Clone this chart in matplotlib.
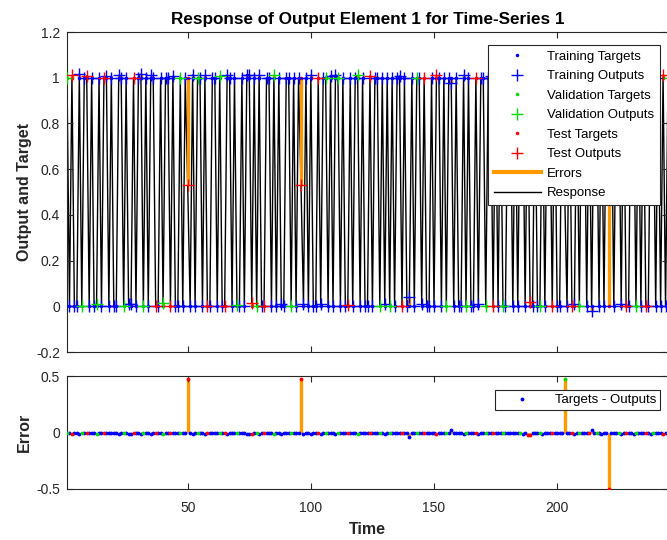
import numpy as np
import matplotlib
matplotlib.use('Agg')
import matplotlib.pyplot as plt
from matplotlib.lines import Line2D

plt.rcParams['font.family'] = ['Liberation Sans', 'DejaVu Sans']

# ---------------- data ----------------
targets_str = (
    "1010010110" "1001011010" "0110100101" "1010110010" "1101001011"
    "0101101001" "1010011010" "0101101010" "0110101001" "1010110101"
    "0010110101" "1010010110" "1001011010" "1010110100" "1011010010"
    "1101011010" "0101001011" "0110101001" "1010110100" "1001011010"
    "0110100101" "1010110101" "0101101001" "1010100110" "10101"
)
subset_str = (
    "gbrbbbgbrb" "bbgbbrbbbb" "bbbgbbbrbb" "bgbbbbrbbg" "bbrbbbgbbr"
    "bbbgbbbrbb" "bbgbrbbbbg" "bbbbbrbgbb" "rbbbgbbbbb" "bgbbbrbbbb"
    "bbrbbgbbbb" "gbbbrbbbgb" "bbbrbbbgbb" "bgbbbbrbbb" "bbgbbrbbbb"
    "rbbbgbbbbb" "bbgbbbrbbb" "gbbrbbbgbb" "bbbbgbbrrb" "bbgbbbbrbb"
    "bbgbbrbbgb" "bbrbbgbbbb" "rbbbgbbrbb" "bgbbbrbbgb" "bbrbg"
)
error_time = [3, 6, 9, 13, 17, 22, 26, 27, 31, 35, 40, 44, 50, 52, 57, 63, 66, 70,
              74, 75, 76, 79, 85, 88, 96, 97, 100, 104, 108, 110, 115, 119, 124,
              130, 136, 140, 145, 151, 157, 162, 168, 173, 180, 186, 188, 189, 194,
              199, 203, 207, 211, 214, 218, 221, 226, 231, 238, 243]
error_value = [-0.01, -0.015, -0.008, -0.012, -0.006, -0.01, -0.012, -0.01, -0.015,
               -0.01, -0.014, -0.006, 0.47, -0.012, -0.01, -0.008, -0.012, -0.006,
               -0.014, -0.012, -0.015, -0.012, -0.01, -0.01, 0.47, -0.012, -0.01,
               -0.012, -0.008, -0.014, -0.006, -0.01, -0.008, -0.01, -0.008, -0.04,
               -0.008, -0.01, 0.022, -0.01, -0.012, -0.006, -0.008, -0.01, -0.02,
               -0.02, -0.012, -0.008, 0.47, -0.01, -0.008, 0.02, -0.01, -0.5, -0.01,
               -0.012, -0.01, -0.012]

subset_names = {'b': 'Training', 'g': 'Validation', 'r': 'Test'}
subset_colors = {'b': '#0000ff', 'g': '#00dd00', 'r': '#ff0000'}

targets = np.array([int(c) for c in targets_str], dtype=float)
subsets = np.array(list(subset_str))
n = len(targets)
time = np.arange(1, n + 1)
errors = np.zeros(n)
errors[np.array(error_time) - 1] = error_value
outputs = targets - errors

orange = '#ff9900'
axcol = '#262626'

# ---------------- figure ----------------
W, H = 667, 540
fig = plt.figure(figsize=(W / 100, H / 100), dpi=100)
ax1 = fig.add_axes([67 / W, 1 - 352 / H, 601 / W, 320 / H])
ax2 = fig.add_axes([67 / W, 1 - 489 / H, 601 / W, 113 / H])

# top: response
ax1.plot(time, outputs, color='k', lw=1.0, zorder=1)
ax1.vlines(time, targets, outputs, color=orange, lw=2.4, zorder=2)
for key in ['b', 'g', 'r']:
    m = subsets == key
    ax1.plot(time[m], targets[m], '.', color=subset_colors[key], ms=3, zorder=3)
    ax1.plot(time[m], outputs[m], '+', color=subset_colors[key], ms=8, mew=1.0, zorder=4)

ax1.set_xlim(1, n)
ax1.set_ylim(-0.2, 1.2)
ax1.set_xticks([50, 100, 150, 200])
ax1.set_xticklabels([])
yt = [-0.2, 0, 0.2, 0.4, 0.6, 0.8, 1.0, 1.2]
ax1.set_yticks(yt)
ax1.set_yticklabels(['-0.2', '0', '0.2', '0.4', '0.6', '0.8', '1', '1.2'])
ax1.set_ylabel('Output and Target', fontsize=11.5, fontweight='bold', color=axcol)
ax1.set_title('Response of Output Element 1 for Time-Series 1', fontsize=12.3,
              fontweight='bold', color='k', pad=6)

handles = []
labels = []
for key in ['b', 'g', 'r']:
    handles.append(Line2D([], [], ls='none', marker='.', ms=3, color=subset_colors[key]))
    labels.append(subset_names[key] + ' Targets')
    handles.append(Line2D([], [], ls='none', marker='+', ms=8, mew=1.0, color=subset_colors[key]))
    labels.append(subset_names[key] + ' Outputs')
handles.append(Line2D([], [], color=orange, lw=3))
labels.append('Errors')
handles.append(Line2D([], [], color='k', lw=1))
labels.append('Response')
leg1 = ax1.legend(handles, labels, loc='upper right', bbox_to_anchor=(0.987, 0.96),
                  fontsize=9.5, frameon=True, fancybox=False, framealpha=1,
                  edgecolor='#262626', handlelength=3.6, handletextpad=0.45,
                  labelspacing=0.55, borderpad=0.45, borderaxespad=0)
leg1.get_frame().set_linewidth(0.8)
leg1.set_zorder(10)

# bottom: errors
ax2.vlines(time, 0, errors, color=orange, lw=2.4, zorder=1)
for key in ['b', 'g', 'r']:
    m = subsets == key
    ax2.plot(time[m], errors[m], '.', color=subset_colors[key], ms=3.5, zorder=3)
ax2.set_xlim(1, n)
ax2.set_ylim(-0.5, 0.5)
ax2.set_xticks([50, 100, 150, 200])
ax2.set_xticklabels(['50', '100', '150', '200'])
ax2.set_yticks([-0.5, 0, 0.5])
ax2.set_yticklabels(['-0.5', '0', '0.5'])
ax2.set_ylabel('Error', fontsize=11.5, fontweight='bold', color=axcol)
ax2.set_xlabel('Time', fontsize=11.5, fontweight='bold', color=axcol, labelpad=5)
leg2 = ax2.legend([Line2D([], [], ls='none', marker='.', ms=3.5, color='#0000ff')],
                  ['Targets - Outputs'], loc='upper right', bbox_to_anchor=(0.987, 0.876),
                  fontsize=9.5, frameon=True, fancybox=False, framealpha=1,
                  edgecolor='#262626', handlelength=3.4, handletextpad=0.8,
                  borderpad=0.3, borderaxespad=0)
leg2.get_frame().set_linewidth(0.8)

for ax in (ax1, ax2):
    for s in ax.spines.values():
        s.set_color(axcol)
        s.set_linewidth(0.8)
    ax.tick_params(direction='in', length=4, width=0.8, colors=axcol, labelsize=10,
                   top=True, right=True, labelcolor=axcol)
    ax.tick_params(axis='y', pad=5)
ax2.tick_params(axis='x', pad=9)

ax1.yaxis.set_label_coords(-0.058, 0.5)
ax2.yaxis.set_label_coords(-0.058, 0.5)

fig.savefig('out.png', dpi=100)
